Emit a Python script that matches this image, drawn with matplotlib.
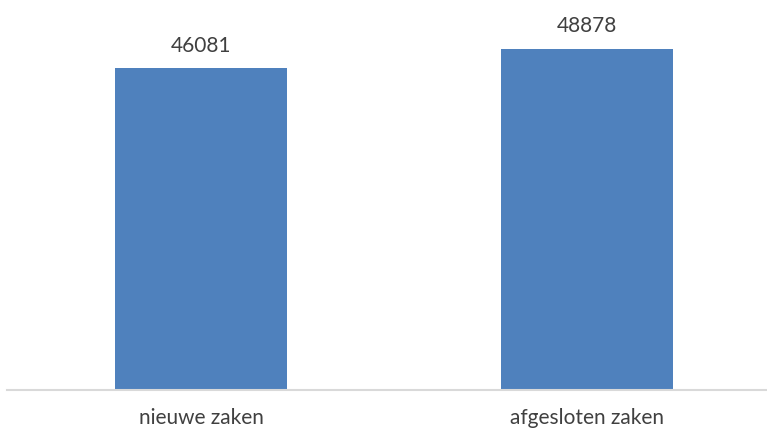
import matplotlib
matplotlib.use("Agg")
import matplotlib.pyplot as plt

categories = ["nieuwe zaken", "afgesloten zaken"]
values = [46081, 48878]

plt.rcParams['font.family'] = ['Lato', 'DejaVu Sans']

fig = plt.figure(figsize=(7.67, 4.35), dpi=100)
ax = fig.add_axes([7/767, 1 - 391/435, 760/767, 391/435])
x = list(range(len(categories)))
bars = ax.bar(x, values, width=0.446, color="#4F81BD", zorder=2)
ax.set_xlim(-0.5026, 1.466)
ax.set_ylim(0, 56040)
for xi, v in zip(x, values):
    ax.annotate(str(v), (xi, v), xytext=(0, 10), textcoords="offset points",
                ha="center", va="bottom", fontsize=15, color="#404040")
ax.set_xticks(x)
ax.set_xticklabels(categories, fontsize=15, color="#404040")
ax.tick_params(axis="x", length=0, pad=12)
ax.set_yticks([])
for s in ["top", "right", "left"]:
    ax.spines[s].set_visible(False)
ax.spines["bottom"].set_color("#D9D9D9")
ax.spines["bottom"].set_linewidth(1.5)
fig.savefig("out.png", dpi=100)
